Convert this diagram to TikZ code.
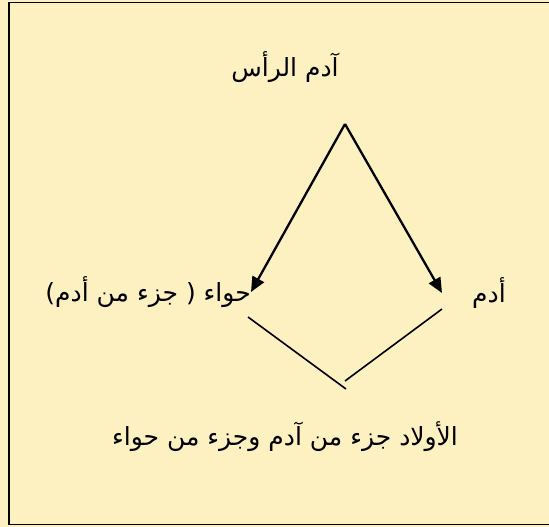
\documentclass[tikz,border=0pt]{standalone}
\usepackage{fontspec}
\newfontfamily\arabicfont[Script=Arabic]{DejaVu Sans}
\TeXXeTstate=1
\usetikzlibrary{arrows.meta}
\definecolor{bgyellow}{RGB}{253,240,193}
\begin{document}
\begin{tikzpicture}[x=1pt, y=-1pt]
\tikzstyle{lbl}   = [font=\arabicfont\fontsize{25}{28}\selectfont, inner sep=0pt]
\tikzstyle{arrow} = [line width=2.3pt, -{Triangle[length=15pt, width=13pt]}]
\tikzstyle{link}  = [line width=1.6pt]

\fill[bgyellow] (0,0) rectangle (549,527);
\useasboundingbox (0,0) rectangle (549,527);
\draw[line width=1.5pt] (549,2.5) -| (9,524.5) -- (549,524.5);

\node (head)     [lbl]              at (285,67)  {\beginR آدم الرأس\endR};
\node (hawa)     [lbl, anchor=east] at (251,292) {\beginR حواء ( جزء من أدم)\endR};
\node (adam)     [lbl, anchor=west] at (472,293) {\beginR أدم\endR};
\node (children) [lbl]              at (285,437) {\beginR الأولاد جزء من آدم وجزء من حواء\endR};

\coordinate (apex)    at (345,124);
\coordinate (adamtip) at (442,293);
\coordinate (hawalow) at (248,317);
\coordinate (adamlow) at (442,309);
\coordinate (meetl)   at (346,389);
\coordinate (meetr)   at (345,381);

\draw [arrow] (apex) -- (hawa.east);
\draw [arrow] (apex) -- (adamtip);
\draw [link]  (hawalow) -- (meetl);
\draw [link]  (adamlow) -- (meetr);
\end{tikzpicture}
\end{document}
